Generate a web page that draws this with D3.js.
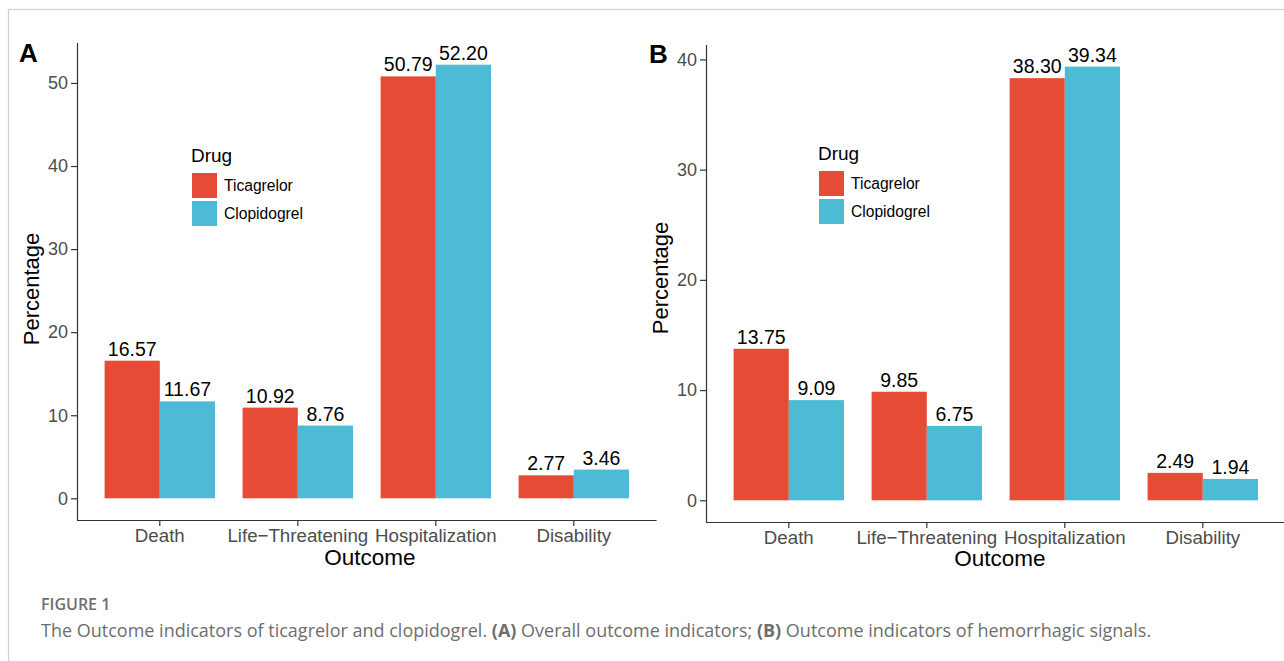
<!DOCTYPE html>
<html>
<head>
<meta charset="utf-8">
<script src="https://cdn.jsdelivr.net/npm/d3@7"></script>
<style>
  body { margin: 0; background: #fff; }
  svg { display: block; }
</style>
</head>
<body>
<svg id="fig" width="1284" height="661"></svg>
<script>
var W = 1284, H = 661;

// chart values
var outcomes = ["Death", "Life\u2212Threatening", "Hospitalization", "Disability"];
var drugs = ["Ticagrelor", "Clopidogrel"];
var ticagrelorA = [16.57, 10.92, 50.79, 2.77];
var clopidogrelA = [11.67, 8.76, 52.20, 3.46];
var ticagrelorB = [13.75, 9.85, 38.30, 2.49];
var clopidogrelB = [9.09, 6.75, 39.34, 1.94];
var ticksA = [0, 10, 20, 30, 40, 50];
var ticksB = [0, 10, 20, 30, 40];

var COLORS = ["#E64B35", "#4DBBD5"];
var FONT = "'Liberation Sans', Arial, sans-serif";

var svg = d3.select("#fig");

// frame
svg.append("rect")
    .attr("x", 8.5).attr("y", 9.5)
    .attr("width", W).attr("height", H)
    .attr("fill", "none")
    .attr("stroke", "#d0d0d0")
    .attr("stroke-width", 1.2);

function buildPanel(p) {
    var g = svg.append("g");
    var step = 138;
    var right = p.left + step * 4.2;
    var x = d3.scaleBand()
        .domain(outcomes)
        .range([p.left, right])
        .paddingInner(0)
        .paddingOuter(0.1);
    var xDrug = d3.scaleBand()
        .domain(drugs)
        .range([x.bandwidth() * 0.1, x.bandwidth() * 0.9]);

    // ggplot style 5% expansion
    var maxV = d3.max(p.series, function(s) { return d3.max(s); });
    var pad = maxV * 0.05;
    var y = d3.scaleLinear()
        .domain([-pad, maxV + pad])
        .range([p.bottom, p.top]);

    var rows = [];
    outcomes.forEach(function(o, i) {
        drugs.forEach(function(d, j) {
            rows.push({ outcome: o, drug: d, j: j, value: p.series[j][i] });
        });
    });

    g.selectAll(".bar")
        .data(rows)
        .enter().append("rect")
        .attr("class", "bar")
        .attr("x", function(d) { return x(d.outcome) + xDrug(d.drug); })
        .attr("width", xDrug.bandwidth())
        .attr("y", function(d) { return y(d.value); })
        .attr("height", function(d) { return y(0) - y(d.value); })
        .attr("fill", function(d) { return COLORS[d.j]; });

    g.selectAll(".vlabel")
        .data(rows)
        .enter().append("text")
        .attr("class", "vlabel")
        .attr("x", function(d) { return x(d.outcome) + xDrug(d.drug) + xDrug.bandwidth() / 2; })
        .attr("y", function(d) { return y(d.value) - 5; })
        .attr("text-anchor", "middle")
        .style("font", "19.5px " + FONT)
        .attr("fill", "#000")
        .text(function(d) { return d.value.toFixed(2); });

    // axes
    var yAxis = g.append("g")
        .attr("transform", "translate(" + p.left + ",0)")
        .call(d3.axisLeft(y).tickValues(p.ticks).tickSize(6).tickPadding(3).tickFormat(d3.format("d")));
    var xAxis = g.append("g")
        .attr("transform", "translate(0," + p.bottom + ")")
        .call(d3.axisBottom(x).tickSize(6).tickPadding(3));
    [xAxis, yAxis].forEach(function(a) {
        a.select(".domain").attr("stroke", "#333").attr("stroke-width", 1.2);
        a.selectAll(".tick line").attr("stroke", "#333").attr("stroke-width", 1.2);
        a.selectAll(".tick text")
            .attr("fill", "#4d4d4d");
    });
    yAxis.selectAll(".tick text").style("font", "18px " + FONT);
    xAxis.selectAll(".tick text").style("font", "18.7px " + FONT);
    // drop the axis end caps that d3 draws
    yAxis.select(".domain").attr("d", "M0.5," + p.bottom + "V" + p.top);
    xAxis.select(".domain").attr("d", "M" + p.left + ",0.5H" + right);

    // titles
    g.append("text")
        .attr("x", p.xTitleX)
        .attr("y", p.xTitleY)
        .attr("text-anchor", "middle")
        .style("font", "22.5px " + FONT)
        .text("Outcome");
    g.append("text")
        .attr("transform", "translate(" + p.yTitleX + "," + p.yTitleY + ") rotate(-90)")
        .attr("text-anchor", "middle")
        .style("font", "22px " + FONT)
        .text("Percentage");
    g.append("text")
        .attr("x", p.tagX).attr("y", p.tagY)
        .style("font", "bold 26px " + FONT)
        .text(p.tag);

    // legend
    var lg = g.append("g").attr("transform", "translate(" + p.legX + "," + p.legY + ")");
    lg.append("text")
        .attr("x", 0).attr("y", 0)
        .style("font", "19px " + FONT)
        .text("Drug");
    var item = lg.selectAll(".item")
        .data(drugs)
        .enter().append("g")
        .attr("transform", function(d, i) { return "translate(1," + (11 + i * 28) + ")"; });
    item.append("rect")
        .attr("width", 25).attr("height", 25)
        .attr("fill", function(d, i) { return COLORS[i]; });
    item.append("text")
        .attr("x", 32).attr("y", 18)
        .style("font", "15.6px " + FONT)
        .text(function(d) { return d; });
}

buildPanel({ tag: "A", series: [ticagrelorA, clopidogrelA], ticks: ticksA,
    left: 77, top: 43, bottom: 520, xTitleX: 370, xTitleY: 565, yTitleX: 39, yTitleY: 289,
    tagX: 19, tagY: 62, legX: 191, legY: 162 });
buildPanel({ tag: "B", series: [ticagrelorB, clopidogrelB], ticks: ticksB,
    left: 706, top: 45, bottom: 522, xTitleX: 1000, xTitleY: 566, yTitleX: 668, yTitleY: 278,
    tagX: 649, tagY: 63, legX: 818, legY: 160 });

// caption
var CAP = "'Open Sans', 'Noto Sans', sans-serif";
svg.append("text")
    .attr("x", 41).attr("y", 610)
    .attr("fill", "#6e6e6e")
    .attr("font-weight", 600)
    .style("font-family", CAP)
    .style("font-size", "16px")
    .text("FIGURE 1");
var cap = svg.append("text")
    .attr("x", 41).attr("y", 637)
    .attr("fill", "#6e6e6e")
    .style("font-family", CAP)
    .style("font-size", "18px");
cap.append("tspan").text("The Outcome indicators of ticagrelor and clopidogrel. ");
cap.append("tspan").attr("font-weight", "bold").text("(A)");
cap.append("tspan").text(" Overall outcome indicators; ");
cap.append("tspan").attr("font-weight", "bold").text("(B)");
cap.append("tspan").text(" Outcome indicators of hemorrhagic signals.");
</script>
</body>
</html>
